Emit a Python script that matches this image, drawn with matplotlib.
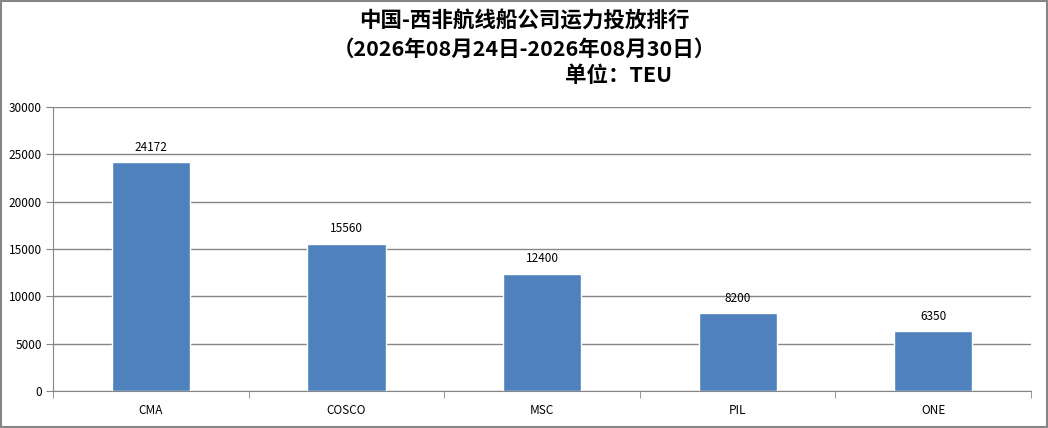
import matplotlib.pyplot as plt
import numpy as np

plt.rcParams['font.family'] = ['Noto Sans CJK SC', 'DejaVu Sans']

companies = ['CMA', 'COSCO', 'MSC', 'PIL', 'ONE']
capacity = [24172, 15560, 12400, 8200, 6350]
yticks = [0, 5000, 10000, 15000, 20000, 25000, 30000]

title1 = '中国-西非航线船公司运力投放排行'
title2 = '（2026年08月24日-2026年08月30日）'
title3 = '单位：TEU'

fig = plt.figure(figsize=(10.48, 4.28), dpi=100)
ax = fig.add_axes([0.0506, 0.0864, 0.9332, 0.6636])

x = np.arange(len(companies))
bars = ax.bar(x, capacity, width=0.4, color='#4F81BD', edgecolor='white', linewidth=1, zorder=3)
for b, v in zip(bars, capacity):
  ax.annotate(str(v), (b.get_x() + b.get_width() / 2, v), xytext=(0, 6),
              textcoords='offset points', ha='center', va='bottom', fontsize=8.5)

ax.set_xlim(-0.5, len(companies) - 0.5)
ax.set_ylim(0, 30000)
ax.set_yticks(yticks)
ax.set_yticklabels([str(t) for t in yticks], fontsize=8.5)
ax.yaxis.grid(True, color='#868686', linewidth=1, zorder=0)
ax.set_xticks(x)
ax.set_xticklabels(companies, fontsize=8.5)
ax.set_xticks(np.arange(len(companies) + 1) - 0.5, minor=True)
ax.tick_params(axis='x', which='major', length=0, pad=9)
ax.tick_params(axis='x', which='minor', length=5, color='#868686')
ax.tick_params(axis='y', length=5, color='#868686', pad=3)
for s in ['top', 'right']:
  ax.spines[s].set_visible(False)
for s in ['left', 'bottom']:
  ax.spines[s].set_color('#868686')

fig.text(0.5, 1 - 21 / 428, title1, ha='center', va='center', fontsize=15.5, fontweight='bold')
fig.text(0.5, 1 - 49 / 428, title2, ha='center', va='center', fontsize=15.5, fontweight='bold')
fig.text(619 / 1048, 1 - 75 / 428, title3, ha='center', va='center', fontsize=15.5, fontweight='bold')

fig.patches.append(plt.Rectangle((0.001, 0.002), 0.998, 0.996, transform=fig.transFigure,
                                 fill=False, edgecolor='#868686', linewidth=1.5))

fig.savefig('out.png', dpi=100)
